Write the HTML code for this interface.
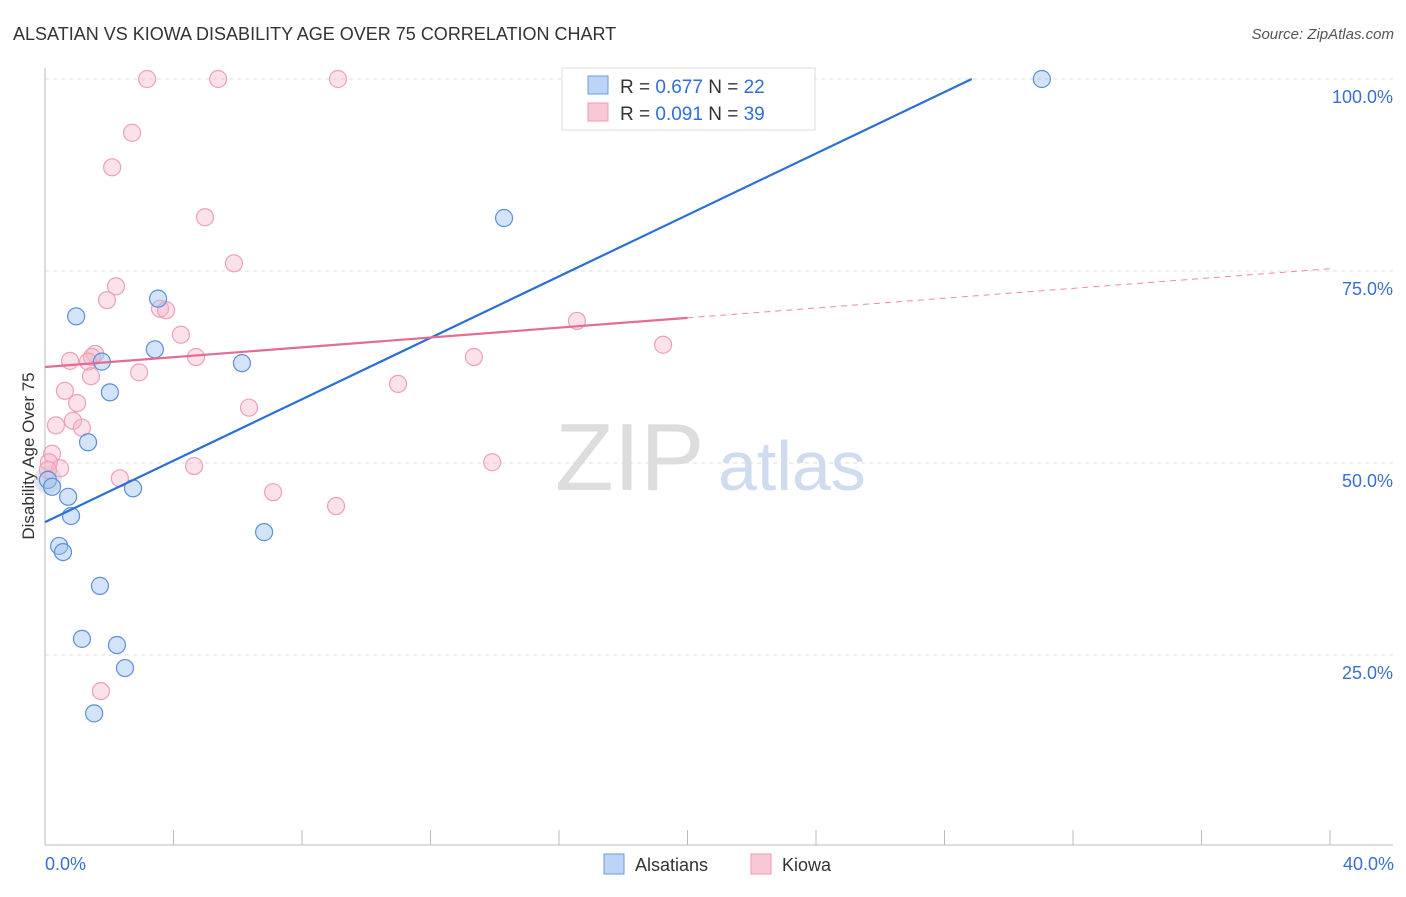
<!DOCTYPE html>
<html><head><meta charset="utf-8"><style>
body{margin:0;background:#fff;font-family:"Liberation Sans",sans-serif}
svg text{font-family:"Liberation Sans",sans-serif}
</style></head><body>
<svg id="c" width="1406" height="892" viewBox="0 0 1406 892">
<text x="13" y="40" font-size="18" fill="#333">ALSATIAN VS KIOWA DISABILITY AGE OVER 75 CORRELATION CHART</text>
<text x="1394" y="39" font-size="15" fill="#555" font-style="italic" text-anchor="end">Source: ZipAtlas.com</text>
<text x="555" y="490" font-size="96" fill="#ddd" font-family="Liberation Serif">ZIP</text>
<text x="718" y="490" font-size="70" fill="#cfdcf0">atlas</text>
<text transform="translate(34,456) rotate(-90)" font-size="17" fill="#333" text-anchor="middle">Disability Age Over 75</text>
<g id="grid"></g><g id="marks"></g>
<g>
<rect x="562" y="68" width="253" height="62" fill="#fff" stroke="#ddd"/>
<rect x="588" y="76" width="20" height="18" fill="#bcd4f5" stroke="#6a9be0"/>
<rect x="588" y="103" width="20" height="18" fill="#f9c8d6" stroke="#ee9ab3"/>
<text x="620" y="93" font-size="19" fill="#333">R = <tspan fill="#2f6fd6">0.677</tspan>   N = <tspan fill="#2f6fd6">22</tspan></text>
<text x="620" y="120" font-size="19" fill="#333">R = <tspan fill="#2f6fd6">0.091</tspan>   N = <tspan fill="#2f6fd6">39</tspan></text>
</g>
<g>
<rect x="604" y="854" width="20" height="20" fill="#bcd4f5" stroke="#6a9be0"/>
<text x="635" y="871" font-size="18" fill="#333">Alsatians</text>
<rect x="751" y="854" width="20" height="20" fill="#f9c8d6" stroke="#ee9ab3"/>
<text x="782" y="871" font-size="18" fill="#333">Kiowa</text>
</g>
</svg>
<script>
const blueX=[31.03,14.29,3.52,0.97,3.42,1.77,6.13,2.02,1.34,0.09,0.22,2.74,0.72,0.81,0.44,0.56,1.71,1.15,2.24,2.49,1.53,6.82];
const blueY=[100,81.9,71.4,69.1,64.8,63.2,63.0,59.2,52.7,47.8,46.9,46.7,45.6,43.1,39.2,38.4,34.0,27.1,26.3,23.3,17.4,41.0];
const pinkX=[3.18,5.39,9.12,2.71,2.09,4.98,5.88,2.21,1.93,3.58,3.77,4.23,1.56,1.46,0.78,1.34,4.70,2.93,1.43,0.62,1.00,10.99,6.35,0.34,0.87,1.15,13.35,16.56,19.24,0.22,0.47,0.12,4.64,13.92,2.33,7.10,9.06,1.74,0.09];
const pinkY=[100,100,100,93.0,88.5,82.0,76.0,73.0,71.2,70.1,69.9,66.7,64.2,63.8,63.3,63.2,63.8,61.8,61.3,59.4,57.8,60.3,57.2,54.9,55.5,54.6,63.8,68.5,65.4,51.2,49.3,50.1,49.6,50.1,48.0,46.2,44.4,20.3,49.1];
const yTicks=[25,50,75,100];
const yTickLabels=["25.0%","50.0%","75.0%","100.0%"];
const xTickLabels=["0.0%","40.0%"];
const blueTrend=[42.3,2.0]; // intercept, slope
const pinkTrend=[62.5,0.32];
const X=v=>45+v/40*1285, Y=v=>847-v*7.68;
const NS="http://www.w3.org/2000/svg";
function mk(p,t,a){const e=document.createElementNS(NS,t);for(const k in a)e.setAttribute(k,a[k]);p.appendChild(e);return e;}
const g=document.getElementById('grid'),m=document.getElementById('marks');
yTicks.forEach((t,i)=>{
 const l=mk(g,'line',{x1:45,x2:1393,y1:Y(t),y2:Y(t),stroke:'#ddd','stroke-dasharray':'4,4'});
 
 
 const tx=mk(g,'text',{x:1393,y:Y(t)+24,'font-size':18,fill:'#3a6fd0','text-anchor':'end'});
 tx.textContent=yTickLabels[i];
 
 
});
mk(g,'line',{x1:45,x2:45,y1:68,y2:845,stroke:'#bbb'});
mk(g,'line',{x1:45,x2:1393,y1:845,y2:845,stroke:'#bbb'});
for(let i=0;i<=10;i++){const t=mk(g,'line',{x1:X(i*4),x2:X(i*4),y1:830,y2:845,stroke:'#bbb'});
 
 }
[[0,'start',45],[40,'end',1394]].forEach((d,i)=>{const t=mk(g,'text',{x:d[2],y:870,'font-size':18,fill:'#3a6fd0','text-anchor':d[1]});t.textContent=xTickLabels[i];
 
 });
const big=mk(m,'circle',{cx:X(0.09),cy:Y(47.8),r:14,fill:'rgba(170,180,200,0.35)',stroke:'none'});


pinkX.forEach((x,i)=>{const c=mk(m,'circle',{cx:X(x),cy:Y(pinkY[i]),r:8.5,fill:'rgba(246,180,200,0.4)',stroke:'#eea0b8','stroke-width':1.2});
 
 });
blueX.forEach((x,i)=>{const c=mk(m,'circle',{cx:X(x),cy:Y(blueY[i]),r:8.5,fill:'rgba(160,195,240,0.45)',stroke:'#5b8fdc','stroke-width':1.2});
 
 });
const bx2=(100-blueTrend[0])/blueTrend[1];
const bl=mk(m,'line',{x1:X(0),y1:Y(blueTrend[0]),x2:X(bx2),y2:Y(100),stroke:'#2a6fd6','stroke-width':2.2});


const pl=mk(m,'line',{x1:X(0),y1:Y(pinkTrend[0]),x2:X(20),y2:Y(pinkTrend[0]+20*pinkTrend[1]),stroke:'#e56b95','stroke-width':2.2});


const pd=mk(m,'line',{x1:X(20),y1:Y(pinkTrend[0]+20*pinkTrend[1]),x2:X(40),y2:Y(pinkTrend[0]+40*pinkTrend[1]),stroke:'#e88aa8','stroke-width':1,'stroke-dasharray':'6,5'});


</script>
</body></html>
